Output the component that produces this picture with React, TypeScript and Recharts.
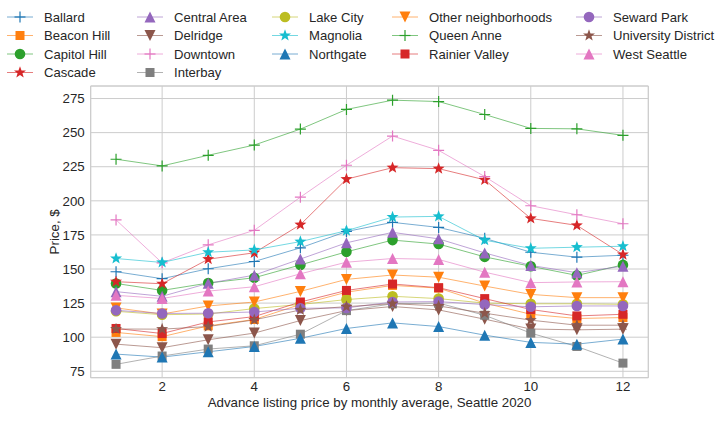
import React from "react";
import { LineChart, Line, XAxis, YAxis, CartesianGrid, ReferenceArea, Label } from "recharts";

const months = [1, 2, 3, 4, 5, 6, 7, 8, 9, 10, 11, 12];
const xTicks = [2, 4, 6, 8, 10, 12];
const yTicks = [75, 100, 125, 150, 175, 200, 225, 250, 275];

const ballard = [148, 142.9, 150.2, 155.5, 165.5, 177.5, 184.2, 180.5, 172.5, 162.3, 158.7, 160.1];
const beaconHill = [103.5, 100.4, 108.3, 113, 124, 133, 138, 136, 125, 116.8, 113.7, 114.4];
const capitolHill = [139.4, 134.3, 139.7, 143.6, 153, 162.6, 171.2, 168.3, 158.9, 152, 145.3, 153];
const cascade = [140.7, 139.2, 157.2, 161.9, 182.5, 215.9, 224.3, 223.6, 215.4, 187.1, 182, 160.6];
const centralArea = [133.4, 130, 139.5, 145.5, 157.3, 169.2, 176.9, 172.1, 161.8, 152.6, 147.3, 152.1];
const delridge = [94.9, 92.3, 98.1, 103, 112.2, 119.5, 122.5, 120, 113.2, 106, 105.4, 105.9];
const downtown = [186, 154.5, 167.7, 178.4, 202.7, 226.1, 247.5, 237, 217.8, 196.4, 189.8, 183.2];
const interbay = [80.1, 86.2, 91.3, 93.7, 102.2, 119.5, 124.5, 125, 116.1, 103, 93.2, 81];
const lakeCity = [119, 116.5, 117, 121, 124, 127.6, 130, 128.3, 125, 124.5, 124.5, 124.1];
const magnolia = [157.7, 154.8, 162.3, 164, 170.1, 178.1, 188.1, 188.6, 171.1, 165.2, 166, 166.7];
const northgate = [87.6, 85.4, 89.3, 93.2, 99.2, 106.4, 110.5, 107.8, 101.5, 96.2, 94.9, 98.6];
const otherNeighborhoods = [121.5, 117, 122.9, 125.8, 133.6, 142.4, 145.6, 144, 137.5, 131.4, 129, 129];
const queenAnne = [230.5, 225.6, 233.4, 240.9, 252.6, 267, 273.8, 272.8, 263.3, 253.1, 252.8, 248];
const rainierValley = [106.4, 102.7, 111.2, 115.1, 125.8, 134.3, 139, 136.3, 128.3, 120.3, 115.6, 116.8];
const sewardPark = [119.7, 117.4, 117.6, 118.5, 121.2, 121.5, 125.8, 126.1, 123.9, 122.3, 122.9, 122.9];
const universityDistrict = [106, 105.9, 107.8, 112.7, 120, 122.4, 124.6, 122.9, 117.6, 112.5, 108.8, 108.8];
const westSeattle = [130.7, 128.4, 133.8, 137, 146.5, 155, 157.7, 157, 147.7, 140, 140.5, 140.7];

type Shape = "plus" | "square" | "circle" | "star" | "tri-up" | "tri-down";

const seriesList: { name: string; values: number[]; color: string; shape: Shape }[] = [
  { name: "Ballard", values: ballard, color: "#1f77b4", shape: "plus" },
  { name: "Beacon Hill", values: beaconHill, color: "#ff7f0e", shape: "square" },
  { name: "Capitol Hill", values: capitolHill, color: "#2ca02c", shape: "circle" },
  { name: "Cascade", values: cascade, color: "#d62728", shape: "star" },
  { name: "Central Area", values: centralArea, color: "#9467bd", shape: "tri-up" },
  { name: "Delridge", values: delridge, color: "#8c564b", shape: "tri-down" },
  { name: "Downtown", values: downtown, color: "#e377c2", shape: "plus" },
  { name: "Interbay", values: interbay, color: "#7f7f7f", shape: "square" },
  { name: "Lake City", values: lakeCity, color: "#bcbd22", shape: "circle" },
  { name: "Magnolia", values: magnolia, color: "#17becf", shape: "star" },
  { name: "Northgate", values: northgate, color: "#1f77b4", shape: "tri-up" },
  { name: "Other neighborhoods", values: otherNeighborhoods, color: "#ff7f0e", shape: "tri-down" },
  { name: "Queen Anne", values: queenAnne, color: "#2ca02c", shape: "plus" },
  { name: "Rainier Valley", values: rainierValley, color: "#d62728", shape: "square" },
  { name: "Seward Park", values: sewardPark, color: "#9467bd", shape: "circle" },
  { name: "University District", values: universityDistrict, color: "#8c564b", shape: "star" },
  { name: "West Seattle", values: westSeattle, color: "#e377c2", shape: "tri-up" },
];

const data = months.map((m, i) => {
  const row: Record<string, number> = { month: m };
  seriesList.forEach((s) => {
    row[s.name] = s.values[i];
  });
  return row;
});

const FONT = "'Liberation Sans', Arial, sans-serif";

function starPoints(cx: number, cy: number, ro: number, ri: number) {
  const pts: string[] = [];
  for (let k = 0; k < 10; k++) {
    const r = k % 2 === 0 ? ro : ri;
    const a = -Math.PI / 2 + (k * Math.PI) / 5;
    pts.push(`${cx + r * Math.cos(a)},${cy + r * Math.sin(a)}`);
  }
  return pts.join(" ");
}

function Marker({ shape, cx, cy, color }: { shape: Shape; cx: number; cy: number; color: string }) {
  switch (shape) {
    case "plus":
      return (
        <g stroke={color} strokeWidth={1.2}>
          <line x1={cx - 5.5} y1={cy} x2={cx + 5.5} y2={cy} />
          <line x1={cx} y1={cy - 5.5} x2={cx} y2={cy + 5.5} />
        </g>
      );
    case "square":
      return <rect x={cx - 4.5} y={cy - 4.5} width={9} height={9} fill={color} />;
    case "circle":
      return <circle cx={cx} cy={cy} r={5.3} fill={color} />;
    case "star":
      return <polygon points={starPoints(cx, cy, 6.3, 2.6)} fill={color} />;
    case "tri-up":
      return <polygon points={`${cx},${cy - 5.5} ${cx - 5.5},${cy + 5.5} ${cx + 5.5},${cy + 5.5}`} fill={color} />;
    case "tri-down":
      return <polygon points={`${cx},${cy + 5.5} ${cx - 5.5},${cy - 5.5} ${cx + 5.5},${cy - 5.5}`} fill={color} />;
  }
  return null;
}

const legendCols = [7, 137, 272, 392, 576];
const legendRows = [17, 35.5, 54, 72.5];
const colSizes = [4, 4, 3, 3, 3];

function LegendBlock() {
  const items: React.ReactNode[] = [];
  let idx = 0;
  colSizes.forEach((n, c) => {
    for (let r = 0; r < n; r++) {
      const s = seriesList[idx++];
      const x0 = legendCols[c];
      const y = legendRows[r];
      items.push(
        <g key={s.name}>
          <line x1={x0} y1={y} x2={x0 + 26} y2={y} stroke={s.color} strokeOpacity={0.6} strokeWidth={1} />
          <Marker shape={s.shape} cx={x0 + 13} cy={y} color={s.color} />
          <text x={x0 + 37} y={y + 4.7} fontSize={13.1} fill="#262626" fontFamily={FONT}>
            {s.name}
          </text>
        </g>
      );
    }
  });
  return (
    <svg width={720} height={90} style={{ position: "absolute", left: 0, top: 0 }}>
      {items}
    </svg>
  );
}

export default function App() {
  return (
    <div style={{ position: "absolute", left: 0, top: 0, width: 720, height: 432, background: "#fff" }}>
      <LineChart
        width={720}
        height={432}
        data={data}
        margin={{ top: 86, right: 71.7, bottom: 24.3, left: 50.7 }}
        style={{ fontFamily: FONT }}
      >
        <CartesianGrid stroke="#cccccc" strokeWidth={1} vertical horizontal />
        <XAxis
          dataKey="month"
          type="number"
          domain={[0.45, 12.55]}
          ticks={xTicks}
          allowDataOverflow
          axisLine={false}
          tickLine={false}
          tickSize={0}
          tickMargin={4}
          height={30}
          tick={{ fill: "#262626", fontSize: 13.3 }}
        >
          <Label
            value="Advance listing price by monthly average, Seattle 2020"
            position="insideBottom"
            offset={1}
            style={{ fill: "#262626", fontSize: 13.3 }}
          />
        </XAxis>
        <YAxis
          type="number"
          domain={[70.3, 284.2]}
          ticks={yTicks}
          allowDataOverflow
          axisLine={false}
          tickLine={false}
          tickSize={0}
          tickMargin={6}
          width={40}
          tick={{ fill: "#262626", fontSize: 13.3 }}
        >
          <Label
            value="Price, $"
            angle={-90}
            position="insideLeft"
            offset={4}
            style={{ fill: "#262626", fontSize: 13.3, textAnchor: "middle" }}
          />
        </YAxis>
        <ReferenceArea x1={0.45} x2={12.55} y1={70.3} y2={284.2} fill="none" stroke="#cccccc" strokeWidth={1} ifOverflow="visible" />
        {seriesList.map((s) => (
          <Line
            key={s.name}
            dataKey={s.name}
            type="linear"
            stroke={s.color}
            strokeOpacity={0.6}
            strokeWidth={1}
            isAnimationActive={false}
            activeDot={false}
            dot={(p: any) => <Marker key={`${s.name}-${p.index}`} shape={s.shape} cx={p.cx} cy={p.cy} color={s.color} />}
          />
        ))}
      </LineChart>
      <LegendBlock />
    </div>
  );
}
